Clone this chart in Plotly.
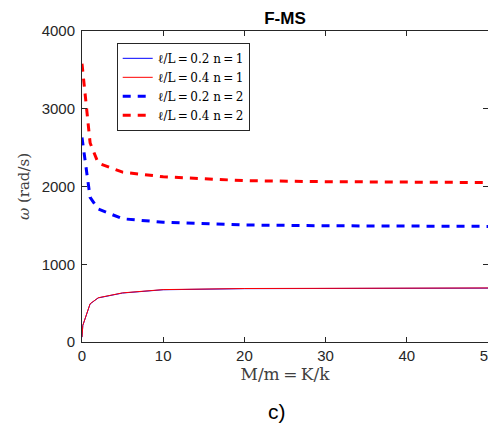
import plotly.graph_objects as go

# Data
mass_ratio = [0, 0.1, 1, 2, 5, 10, 20, 30, 40, 50]
w_l02_n1 = [62, 212, 490, 567, 630, 672, 686, 690, 692, 693]
w_l04_n1 = [64, 214, 492, 569, 632, 674, 688, 692, 694, 695]
w_l02_n2 = [2630, 2550, 1860, 1710, 1585, 1540, 1505, 1495, 1490, 1487]
w_l04_n2 = [3580, 3480, 2560, 2300, 2185, 2125, 2075, 2062, 2056, 2051]

T = "\u2009"
series_names = [f"ℓ/L{T}={T}0.2 n{T}={T}1", f"ℓ/L{T}={T}0.4 n{T}={T}1",
                f"ℓ/L{T}={T}0.2 n{T}={T}2", f"ℓ/L{T}={T}0.4 n{T}={T}2"]

x_ticks = [0, 10, 20, 30, 40, 50]
y_ticks = [0, 1000, 2000, 3000, 4000]

axis_color = "#262626"
tick_font = dict(family="Liberation Sans, Arial, sans-serif", size=15, color=axis_color)
serif = "DejaVu Serif, Liberation Serif, serif"

fig = go.Figure()
styles = [dict(color="#0000FF", width=1), dict(color="#FF0000", width=1),
          dict(color="#0000FF", width=3, dash="8px,7px"), dict(color="#FF0000", width=3, dash="8px,7px")]
for i, (ys, name) in enumerate(zip([w_l02_n1, w_l04_n1, w_l02_n2, w_l04_n2], series_names)):
    fig.add_trace(go.Scatter(x=mass_ratio, y=ys, mode="lines", name=name, line=styles[i]))

# page body has an 8px margin: figure drawn at 488x420 offset by 8px
fig.update_layout(
    width=488, height=420,
    margin=dict(l=74, r=8, t=23, b=86, autoexpand=False),
    paper_bgcolor="white", plot_bgcolor="white",
    title=dict(text="<b>F-MS</b>", x=0.5, xref="paper", xanchor="center",
               y=1 - 10 / 420, yref="container", yanchor="middle",
               font=dict(family="Liberation Sans, Arial, sans-serif", size=17, color="#000000")),
    legend=dict(x=0.0855, y=0.962, xanchor="left", yanchor="top",
                bgcolor="white", bordercolor=axis_color, borderwidth=1,
                font=dict(family=serif, size=12, color="#000000"),
                tracegroupgap=0, itemwidth=30),
    showlegend=True,
)

fig.update_xaxes(
    range=[0, 50], tickvals=x_ticks, ticks="inside", ticklen=5, tickwidth=1,
    tickcolor=axis_color, showline=True, linecolor=axis_color, linewidth=1,
    mirror="ticks", showgrid=False, zeroline=False, tickfont=tick_font,
    ticklabeloverflow="allow", automargin=False,
    title=dict(text=f"M/m{T}={T}K/k", font=dict(family=serif, size=17, color="#404040"), standoff=4),
)
fig.update_yaxes(
    range=[0, 4000], tickvals=y_ticks, ticks="inside", ticklen=5, tickwidth=1,
    tickcolor=axis_color, showline=True, linecolor=axis_color, linewidth=1,
    mirror="ticks", showgrid=False, zeroline=False, tickfont=tick_font, ticklabelstandoff=3,
    automargin=False,
    title=dict(text="<i>ω</i> (rad/s)", font=dict(family=serif, size=15, color="#404040"), standoff=8),
)

fig.add_annotation(text="c)", x=0.48, y=-0.223, xref="paper", yref="paper",
                   xanchor="center", yanchor="middle", showarrow=False,
                   font=dict(family="Liberation Sans, Arial, sans-serif", size=21, color="#000000"))

fig.write_html("out.html")
